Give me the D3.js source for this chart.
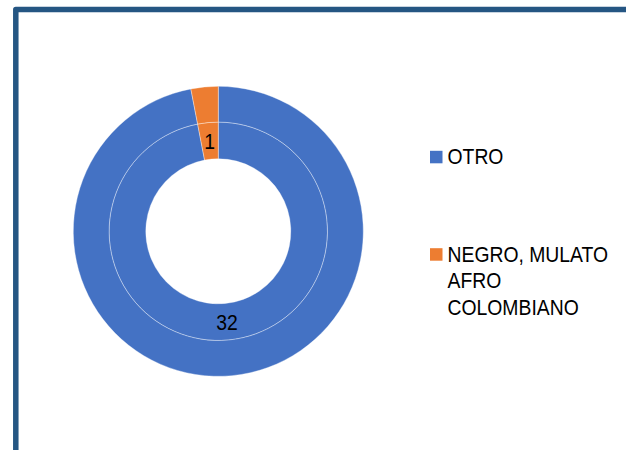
<!DOCTYPE html>
<html>
<head>
<meta charset="utf-8">
<script src="https://cdn.jsdelivr.net/npm/d3@7"></script>
<style>
	html, body { margin: 0; padding: 0; background: #fff; }
	text { font-family: 'Liberation Sans Narrow', 'Arial Narrow', 'Liberation Sans', Arial, sans-serif; fill: #000; }
</style>
</head>
<body>
<svg id="chart" width="626" height="450"></svg>
<script>
const categories = ['OTRO', 'NEGRO, MULATO AFRO COLOMBIANO']
const legendLines = [['OTRO'], ['NEGRO, MULATO', 'AFRO', 'COLOMBIANO']]
const innerValues = [32, 1]
const outerValues = [32, 1]
const colors = ['#4472C4', '#ED7D31']

const svg = d3.select('#chart')

// narrow look: no Arial Narrow here, so squeeze the regular face
const squeeze = 0.88

// frame, only top and left edges are visible in the crop
svg.append('path')
	.attr('d', 'M15.8,452 L15.8,9.4 L630,9.4')
	.attr('fill', 'none')
	.attr('stroke', '#255683')
	.attr('stroke-width', 5.5)
	.attr('stroke-linejoin', 'round')

const cx = 218.3
const cy = 231.3
const rHole = 72.5
const rMid = 109.2
const rOuter = 145

const color = d3.scaleOrdinal().domain(categories).range(colors)
const pie = d3.pie().sort(null).value(d => d.value)

const rings = [
	{ values: innerValues, inner: rHole, outer: rMid, labels: true },
	{ values: outerValues, inner: rMid, outer: rOuter, labels: false }
]

const g = svg.append('g').attr('transform', `translate(${cx},${cy})`)

rings.forEach(ring => {
	const arcs = pie(categories.map((c, i) => ({ key: c, value: ring.values[i] })))
	const arc = d3.arc().innerRadius(ring.inner).outerRadius(ring.outer)

	g.append('g')
		.selectAll('path')
		.data(arcs)
		.enter()
		.append('path')
		.attr('d', arc)
		.attr('fill', d => color(d.data.key))
		.attr('stroke', 'rgba(255,255,255,0.6)')
		.attr('stroke-width', 0.6)

	if (ring.labels) {
		g.append('g')
			.selectAll('text')
			.data(arcs)
			.enter()
			.append('text')
			.attr('transform', d => `translate(${arc.centroid(d)}) scale(${squeeze},1)`)
			.attr('dy', '0.36em')
			.attr('text-anchor', 'middle')
			.style('font-size', '22px')
			.text(d => d.data.value)
	}
})

// legend
const legendTop = [164.3, 261.7]
const legend = svg.append('g')
categories.forEach((c, i) => {
	legend.append('rect')
		.attr('x', 430)
		.attr('y', legendTop[i] - 13.5)
		.attr('width', 12.5)
		.attr('height', 12.5)
		.attr('fill', color(c))
	const t = legend.append('text')
		.attr('transform', `translate(447.5,${legendTop[i]}) scale(${squeeze},1)`)
		.style('font-size', '22px')
	legendLines[i].forEach((line, j) => {
		t.append('tspan')
			.attr('x', 0)
			.attr('y', j * 26.7)
			.text(line)
	})
})
</script>
</body>
</html>
